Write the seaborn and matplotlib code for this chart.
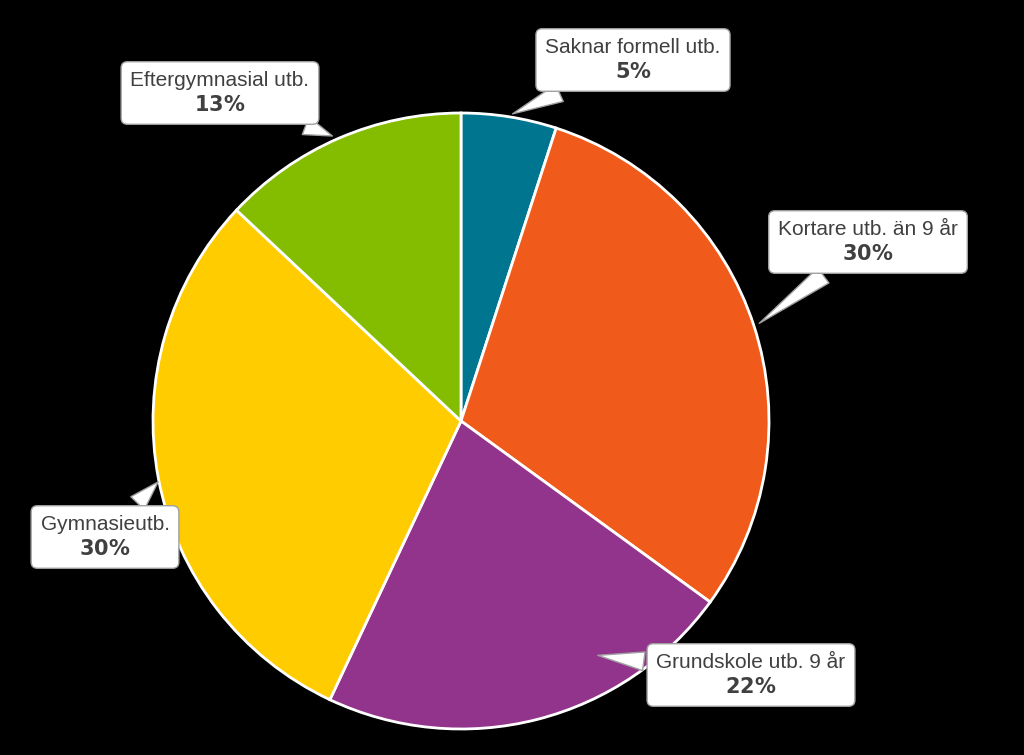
import matplotlib
matplotlib.use("Agg")
import matplotlib.pyplot as plt
import seaborn as sns

categories = ["Saknar formell utb.", "Kortare utb. än 9 år", "Grundskole utb. 9 år",
              "Gymnasieutb.", "Eftergymnasial utb."]
shares = [5, 30, 22, 30, 13]
colors = ["#00758F", "#F05A1A", "#93348C", "#FFCC00", "#84BD00"]

# label box centres and pointer tips (pixel coords, y up)
label_pos = [(633, 695), (868, 513), (751, 80), (105, 218), (220, 662)]
tip_pos = [(510, 640), (757, 430), (595, 100), (160, 275), (335, 618)]

sns.set_theme(style="white")
plt.rcParams["font.family"] = ["Liberation Sans", "DejaVu Sans"]

fig = plt.figure(figsize=(10.24, 7.55), dpi=100, facecolor="black")
ax = fig.add_axes([0, 0, 1, 1])
ax.set_facecolor("black")
ax.pie(shares, colors=colors, startangle=90, counterclock=False,
       center=(461, 334), radius=308,
       wedgeprops=dict(edgecolor="white", linewidth=2))
ax.set_xlim(0, 1024)
ax.set_ylim(0, 755)
ax.set_aspect("equal")
ax.axis("off")

for cat, val, lp, tp in zip(categories, shares, label_pos, tip_pos):
    ax.annotate(f"{cat}\n$\\bf{{{val}\\%}}$", xy=tp, xytext=lp,
                ha="center", va="center", fontsize=15, color="#404040",
                linespacing=1.3,
                bbox=dict(boxstyle="round,pad=0.45,rounding_size=0.3",
                          fc="white", ec="#A0A0A0", lw=1),
                arrowprops=dict(arrowstyle="wedge,tail_width=0.9",
                                fc="white", ec="#A0A0A0", lw=1))

fig.savefig("out.png", dpi=100, facecolor="black")
